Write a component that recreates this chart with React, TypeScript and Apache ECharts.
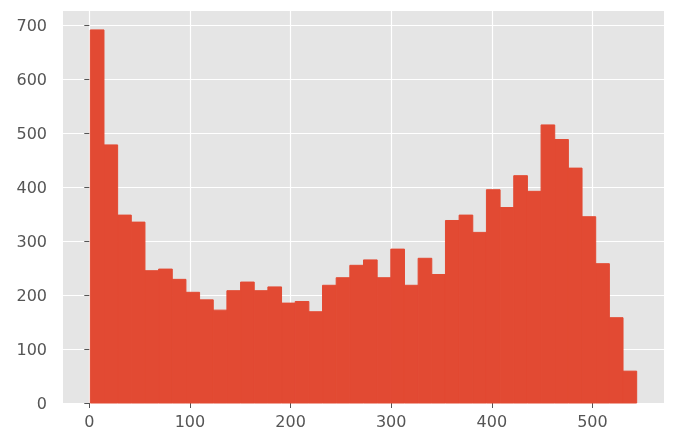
import React, { useEffect, useRef } from "react";
import * as echarts from "echarts";

// Histogram: 40 bins from 1 to 544
const binStart = 1.0;
const binEnd = 544.0;
const counts = [
  691, 478, 348, 335, 245, 248, 229, 205, 191, 172,
  208, 224, 208, 215, 185, 188, 169, 218, 232, 255,
  265, 232, 285, 218, 268, 238, 338, 348, 316, 395,
  362, 421, 392, 515, 488, 435, 345, 258, 158, 59,
];
const xTicks = [0, 100, 200, 300, 400, 500];
const yTicks = [0, 100, 200, 300, 400, 500, 600, 700];

const binWidth = (binEnd - binStart) / counts.length;
const histData = counts.map((c, i) => [
  binStart + i * binWidth,
  binStart + (i + 1) * binWidth,
  c,
]);

export default function App() {
  const ref = useRef<HTMLDivElement>(null);
  useEffect(() => {
    if (!ref.current) return;
    const chart = echarts.init(ref.current, null, { renderer: "svg" });
    const span = binEnd - binStart;
    const labelStyle = {
      color: "#555555",
      fontFamily: "DejaVu Sans",
      fontSize: 16,
    };
    chart.setOption({
      animation: false,
      grid: {
        left: 63,
        top: 11,
        width: 601,
        height: 392,
        show: true,
        backgroundColor: "#E5E5E5",
        borderWidth: 0,
      },
      xAxis: {
        type: "value",
        min: binStart - 0.05 * span,
        max: binEnd + 0.05 * span,
        axisLine: { show: false },
        axisTick: {
          show: true,
          customValues: xTicks,
          length: 5,
          lineStyle: { color: "#555555", width: 1 },
        },
        axisLabel: { ...labelStyle, customValues: xTicks, margin: 10 },
        splitLine: { show: true, lineStyle: { color: "#FFFFFF", width: 1.2 } },
      },
      yAxis: {
        type: "value",
        min: 0,
        max: 726,
        axisLine: { show: false },
        axisTick: {
          show: true,
          customValues: yTicks,
          length: 5,
          lineStyle: { color: "#555555", width: 1 },
        },
        axisLabel: { ...labelStyle, customValues: yTicks, margin: 16 },
        splitLine: { show: true, lineStyle: { color: "#FFFFFF", width: 1.2 } },
      },
      series: [
        {
          type: "custom",
          data: histData,
          renderItem: (params: any, api: any) => {
            const p0 = api.coord([api.value(0), api.value(2)]);
            const p1 = api.coord([api.value(1), 0]);
            return {
              type: "rect",
              shape: { x: p0[0], y: p0[1], width: p1[0] - p0[0], height: p1[1] - p0[1] },
              style: { fill: "#E24A33", stroke: "#E24A33", lineWidth: 1 },
            };
          },
          encode: { x: [0, 1], y: 2 },
        },
      ],
    });
    return () => chart.dispose();
  }, []);
  return (
    <div
      ref={ref}
      style={{ position: "fixed", left: 0, top: 0, width: 682, height: 440 }}
    />
  );
}
